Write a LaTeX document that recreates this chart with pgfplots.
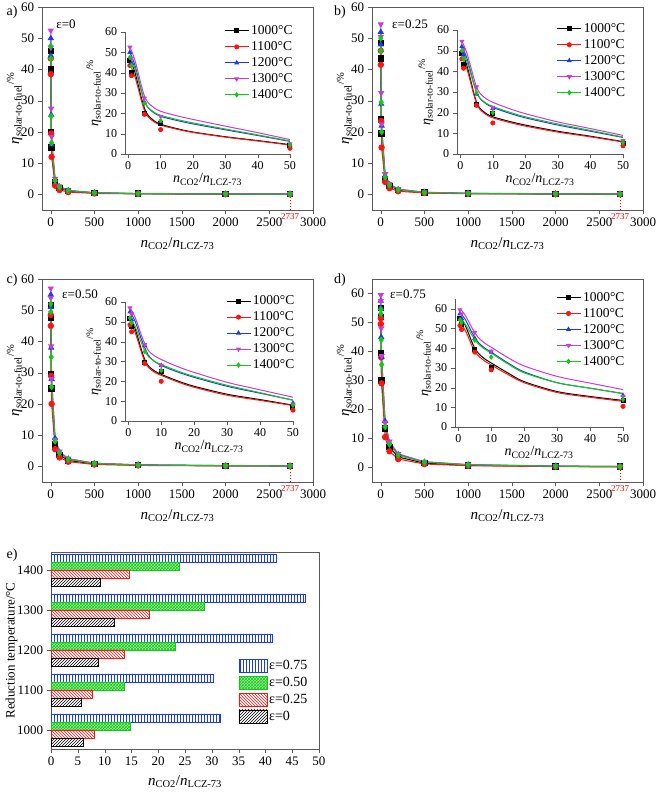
\documentclass[border=0pt]{standalone}
\usepackage{fontspec}
\setmainfont{Liberation Serif}
\usepackage{pgfplots}
\usepackage{pgfplotstable}
\pgfplotsset{compat=1.18}
\usetikzlibrary{patterns}

\definecolor{c1000}{HTML}{000000}
\definecolor{c1100}{HTML}{FF1414}
\definecolor{c1200}{HTML}{1E3CE6}
\definecolor{c1300}{HTML}{C83CD2}
\definecolor{c1400}{HTML}{14C814}

% measured points (x = nCO2/nLCZ-73)
\pgfplotstableread{
x    k1000 k1100 k1200 k1300 k1400
0.5  46    43.5  50    52.5  47.5
1    40    38.5  44.5  47    43.5
5    20    19.5  25.5  27.5  25
10   15    12    16    18.5  16.5
50   4     2.8   4.5   5     4.4
100  2.0   1.4   2.4   2.6   2.3
200  1.1   0.75  1.2   1.3   1.2
500  0.45  0.3   0.5   0.55  0.5
1000 0.22  0.15  0.25  0.27  0.25
2000 0.11  0.08  0.13  0.14  0.12
2737 0.08  0.05  0.09  0.1   0.09
}\dA
\pgfplotstableread{
x    k1000 k1100 k1200 k1300 k1400
0.5  48.5  46    52    54.5  50
1    43.5  41.5  48    50.5  46
5    24    23.5  29    32.5  29.5
10   19.5  15    22    22.5  20
50   5     4     6     6.5   5.5
100  2.7   2.0   3.1   3.4   3.0
200  1.4   1.0   1.6   1.7   1.5
500  0.55  0.42  0.65  0.7   0.6
1000 0.28  0.2   0.32  0.35  0.3
2000 0.14  0.1   0.16  0.17  0.15
2737 0.1   0.07  0.12  0.13  0.11
}\dB
\pgfplotstableread{
x    k1000 k1100 k1200 k1300 k1400
0.5  51.5  48.5  55    57    52
1    47.5  45    51    54    49.5
5    29.5  29    38    38.5  35
10   25    20    28    28    25.5
50   7     5.5   9     8.5   8
100  3.7   2.9   4.6   4.8   4.3
200  1.9   1.5   2.4   2.5   2.2
500  0.8   0.6   1.0   1.0   0.9
1000 0.4   0.3   0.5   0.5   0.45
2000 0.2   0.15  0.25  0.25  0.22
2737 0.15  0.11  0.18  0.18  0.16
}\dC
\pgfplotstableread{
x    k1000 k1100 k1200 k1300 k1400
0.5  55    51.5  57.5  59.5  54.5
1    52    49.5  55    57.5  53
5    39.5  38    45    48    44
10   30    29    38    38.5  35.5
50   13.5  10.5  16    15.5  14
100  7.0   5.6   8.5   9.0   8.0
200  3.6   2.9   4.5   4.7   4.2
500  1.5   1.2   1.9   2.0   1.8
1000 0.75  0.6   0.95  1.0   0.9
2000 0.38  0.3   0.48  0.5   0.45
2737 0.28  0.22  0.35  0.37  0.33
}\dD

% fitted curves of the insets
\pgfplotstableread{
x   k1000 k1100 k1200 k1300 k1400
0.5 46.5 44   50   52.5 48
1   44.8 42.4 48.3 50.8 46.5
2   40.5 38.4 44   46.5 42.5
3   34.5 32.8 38   40.5 37
4   28   26.7 31.5 34   31.1
5   22.5 21.5 26   28.5 26
6   19.3 18.6 23   25.5 23.2
7   17.6 17   21.4 23.9 21.7
8   16.3 15.8 20.2 22.7 20.5
10  14.6 14.2 18.5 21   19
15  12.5 12.2 16.5 18.8 17
20  10.8 10.6 14.8 17   15.3
30  8.5  8.3  11.9 13.7 12.3
40  6.6  6.4  9.1  10.5 9.4
50  4.6  4.4  6.2  7.1  6.4
}\cA
\pgfplotstableread{
x   k1000 k1100 k1200 k1300 k1400
0.5 49   47   52   54.5 50
1   47.3 45.4 50.5 53   48.6
2   43   41.4 46.5 49   45
3   37   35.8 41   43.5 40
4   30.5 29.7 35.1 37.6 34.6
5   25   24.5 30   32.5 30
6   22.2 21.7 27   29.5 27.2
7   20.7 20.2 25.4 27.9 25.7
8   19.5 19   24.2 26.7 24.5
10  18   17.5 22.5 25   23
15  15.8 15.3 19.8 22   20.3
20  14   13.5 17.5 19.5 18
30  11   10.6 14   15.5 14.5
40  8.6  8.3  11   12.3 11.4
50  6    5.8  8    9    8.2
}\cB
\pgfplotstableread{
x   k1000 k1100 k1200 k1300 k1400
0.5 52   50   55   57   52
1   50.5 48.6 53.7 55.7 50.8
2   46.8 45   50.5 52.5 47.9
3   41.5 40   46   48   43.8
4   35.8 34.6 41.1 43.1 39.3
5   31   30   37   39   35.5
6   28   27.2 33.4 35.8 32.7
7   26.4 25.7 31.4 34   31.2
8   25.2 24.5 30   32.8 30
10  23.5 23   28   31   28.5
15  20.2 19.7 24.7 27.4 25.2
20  17.5 17   22   24.5 22.5
30  13.5 13   17.5 19.5 18
40  10.8 10.4 14   15.7 14.3
50  8    7.8  10.5 12   10.5
}\cC
\pgfplotstableread{
x   k1000 k1100 k1200 k1300 k1400
0.5 56   53   58   60   55
1   54.9 52   57.1 59.2 54.3
2   52   49.4 54.9 57   52.4
3   48   45.8 51.8 54   49.8
4   43.7 41.8 48.4 50.8 46.9
5   40   38.5 45.5 48   44.5
6   37.6 36.3 43.1 45.6 42.3
7   36   34.8 41.5 44   40.8
8   34.6 33.5 40.1 42.6 39.5
10  32.5 31.5 38   40.5 37.5
15  27.5 26.7 32.6 35.3 32.1
20  23   22.5 28   31   27.5
30  18   17.5 22.5 25.7 22.5
40  15.5 15.1 19.7 22.3 19.7
50  13.5 13   17   19   17
}\cD

% panel e: temperature index, eps=0, 0.25, 0.50, 0.75
\pgfplotstableread{
t e0   e25  e50  e75
1 6.0  8.1  14.8 31.5
2 5.7  7.7  13.7 30.2
3 8.8  13.7 23.2 41.2
4 11.8 18.3 28.5 47.5
5 9.2  14.5 24.0 42.0
}\barE

\newcommand{\xlab}{\textit{n}\textsubscript{CO2}/\textit{n}\textsubscript{LCZ-73}}
\newcommand{\ylab}{\textit{η}\textsubscript{solar-to-fuel}\textsuperscript{/\%}}

\pgfplotsset{
  every axis/.append style={font=\fontsize{13}{15}\selectfont,
    /pgf/number format/assume math mode=true, /pgf/number format/1000 sep={}},
  s1000/.style={color=c1000, mark=square*},
  s1100/.style={color=c1100, mark=*},
  s1200/.style={color=c1200, mark=triangle*},
  s1300/.style={color=c1300, mark=triangle*, every mark/.append style={rotate=180}},
  s1400/.style={color=c1400, mark=diamond*},
  mainax/.style={scale only axis, width=271pt, height=203pt, anchor=south west,
    xmin=-100, xmax=3000, ymin=-5, ymax=60,
    xtick={0,500,...,3000}, ytick={0,10,...,60},
    tick align=outside, xtick pos=left, ytick pos=left,
    axis line style={black!65}, tick style={black!65},
    xlabel={\fontsize{15}{17}\selectfont\xlab}, ylabel={\fontsize{15}{17}\selectfont\ylab},
    ylabel shift=-8pt,
    extra x ticks={2737}, extra x tick labels={2737},
    extra x tick style={major tick length=0pt, tick label style={text=red, font=\fontsize{9}{10}\selectfont}},
    every axis plot/.append style={line width=1pt, mark size=2.7pt}},
  inax/.style={scale only axis, anchor=south west, xmin=-1, xmax=50, ymin=0, ymax=60,
    axis x line*=bottom, axis y line*=left, tick align=outside,
    xtick={0,10,...,50}, ytick={0,10,...,60},
    axis line style={black!65}, tick style={black!65},
    font=\fontsize{12}{14}\selectfont,
    xlabel={\fontsize{14}{16}\selectfont\xlab}, ylabel={\fontsize{14}{16}\selectfont\ylab},
    xlabel style={yshift=3pt}, ylabel style={yshift=-3pt},
    legend style={draw=none, fill=none, at={(0.6,1.07)}, anchor=north west,
      font=\fontsize{13.5}{15}\selectfont, row sep=1.5pt, inner sep=0pt},
    legend cell align=left,
    legend image code/.code={\draw[mark repeat=2,mark phase=2,#1]
      plot coordinates {(0pt,0pt) (12pt,0pt) (24pt,0pt)};},
    every axis plot/.append style={line width=1pt, mark size=2pt}},
}

\newcommand{\mainplots}[1]{%
  \addplot[s1000] table[x=x,y=k1000]{#1};
  \addplot[s1100] table[x=x,y=k1100]{#1};
  \addplot[s1200] table[x=x,y=k1200]{#1};
  \addplot[s1300] table[x=x,y=k1300]{#1};
  \addplot[s1400] table[x=x,y=k1400]{#1};
  \addplot[red, dotted, line width=1pt, no marks] coordinates {(2737,0) (2737,-5)};
}
\newcommand{\insetplots}[2]{%
  \addplot[c1000, smooth, tension=0.5, no marks, forget plot] table[x=x,y=k1000]{#1};
  \addplot[c1100, smooth, tension=0.5, no marks, forget plot] table[x=x,y=k1100]{#1};
  \addplot[c1200, smooth, tension=0.5, no marks, forget plot] table[x=x,y=k1200]{#1};
  \addplot[c1300, smooth, tension=0.5, no marks, forget plot] table[x=x,y=k1300]{#1};
  \addplot[c1400, smooth, tension=0.5, no marks, forget plot] table[x=x,y=k1400]{#1};
  \addplot[s1000, only marks, forget plot, restrict x to domain=0:50] table[x=x,y=k1000]{#2};
  \addplot[s1100, only marks, forget plot, restrict x to domain=0:50] table[x=x,y=k1100]{#2};
  \addplot[s1200, only marks, forget plot, restrict x to domain=0:50] table[x=x,y=k1200]{#2};
  \addplot[s1300, only marks, forget plot, restrict x to domain=0:50] table[x=x,y=k1300]{#2};
  \addplot[s1400, only marks, forget plot, restrict x to domain=0:50] table[x=x,y=k1400]{#2};
  \addlegendimage{s1000}\addlegendentry{1000°C}
  \addlegendimage{s1100}\addlegendentry{1100°C}
  \addlegendimage{s1200}\addlegendentry{1200°C}
  \addlegendimage{s1300}\addlegendentry{1300°C}
  \addlegendimage{s1400}\addlegendentry{1400°C}
}

\begin{document}
\begin{tikzpicture}
\useasboundingbox (0,0) rectangle (661pt,796pt);

% a)
\begin{axis}[mainax, at={(42pt,586pt)}]
\mainplots{\dA}
\end{axis}
\begin{axis}[inax, at={(125pt,642pt)}, width=165pt, height=122pt]
\insetplots{\cA}{\dA}
\end{axis}

% b)
\begin{axis}[mainax, at={(372pt,586pt)}]
\mainplots{\dB}
\end{axis}
\begin{axis}[inax, at={(457pt,642pt)}, width=166pt, height=124pt]
\insetplots{\cB}{\dB}
\end{axis}

% c)
\begin{axis}[mainax, at={(42pt,314pt)}]
\mainplots{\dC}
\end{axis}
\begin{axis}[inax, at={(125pt,375pt)}, width=168pt, height=119pt]
\insetplots{\cC}{\dC}
\end{axis}

% d)
\begin{axis}[mainax, at={(372pt,314pt)}, ymax=65]
\mainplots{\dD}
\end{axis}
\begin{axis}[inax, at={(455pt,369pt)}, width=168pt, height=128pt, ymax=65]
\insetplots{\cD}{\dD}
\end{axis}

% e)
\begin{axis}[scale only axis, width=268pt, height=197pt, at={(51pt,47pt)}, anchor=south west,
  xbar, bar width=8pt, xmin=0, xmax=50, ymin=0.525, ymax=5.45,
  xtick={0,5,...,50}, ytick={1,...,5}, yticklabels={1000,1100,1200,1300,1400},
  tick align=outside, xtick pos=left, ytick pos=left,
  axis line style={black!65}, tick style={black!65},
  xlabel={\fontsize{15}{17}\selectfont\xlab}, ylabel={Reduction temperature/°C},
  ylabel shift=-7pt, xlabel shift=3pt,
  legend style={draw=none, fill=none, at={(0.70,0.46)}, anchor=north west,
    font=\fontsize{14}{16}\selectfont, row sep=2pt, inner sep=0pt},
  legend cell align=left,
  legend image code/.code={\draw[#1,/tikz/.cd,bar shift=0pt] (0pt,-6.5pt) rectangle (28pt,6.5pt);},
]
\addplot[draw=c1200, pattern=vertical lines, pattern color=c1200, bar shift=12pt] table[x=e75,y=t]{\barE};
\addlegendentry{ε=0.75}
\addplot[draw=c1400, fill=c1400!40, postaction={pattern=crosshatch, pattern color=c1400}, bar shift=4pt] table[x=e50,y=t]{\barE};
\addlegendentry{ε=0.50}
\addplot[draw=c1100, pattern=north west lines, pattern color=c1100, bar shift=-4pt] table[x=e25,y=t]{\barE};
\addlegendentry{ε=0.25}
\addplot[draw=black, pattern=north east lines, pattern color=black, bar shift=-12pt] table[x=e0,y=t]{\barE};
\addlegendentry{ε=0}
\end{axis}

\node[font=\fontsize{14}{16}\selectfont] at (12pt,784pt) {a)};
\node[font=\fontsize{14}{16}\selectfont] at (340pt,784pt) {b)};
\node[font=\fontsize{14}{16}\selectfont] at (12pt,516pt) {c)};
\node[font=\fontsize{14}{16}\selectfont] at (340pt,516pt) {d)};
\node[font=\fontsize{14}{16}\selectfont] at (12pt,241pt) {e)};
\node[font=\fontsize{13}{15}\selectfont] at (66pt,772pt) {ε=0};
\node[font=\fontsize{13}{15}\selectfont] at (410pt,772pt) {ε=0.25};
\node[font=\fontsize{13}{15}\selectfont] at (80pt,502pt) {ε=0.50};
\node[font=\fontsize{13}{15}\selectfont] at (408pt,502pt) {ε=0.75};
\end{tikzpicture}
\end{document}
